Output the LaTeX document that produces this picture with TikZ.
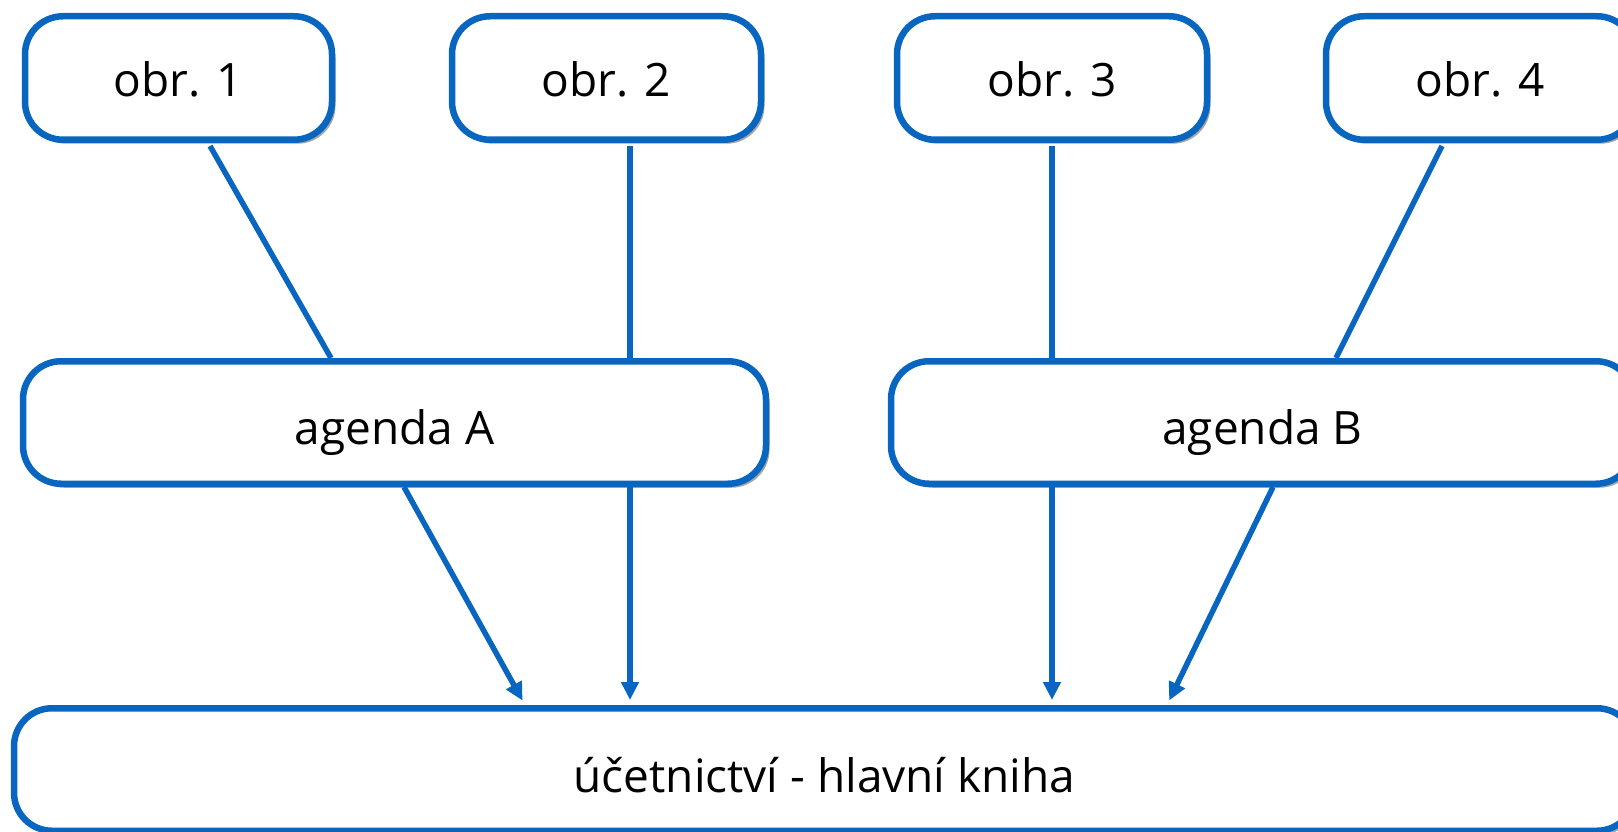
\documentclass[tikz,border=0pt]{standalone}
\usepackage{fontspec}
\setmainfont{Open Sans}
\usetikzlibrary{shadows,arrows.meta}
\definecolor{boxblue}{RGB}{8,102,192}
\tikzset{
  box/.style={draw=boxblue, line width=6.5pt, fill=white, rounded corners=38pt,
    inner sep=0pt, outer sep=3.25pt,
    drop shadow={shadow xshift=3.5pt, shadow yshift=-4pt, opacity=0.35, fill=black}},
  lbl/.style={anchor=base, font=\fontsize{46}{54}\selectfont, text=black},
  conn/.style={draw=boxblue, line width=5.5pt},
  arr/.style={conn, -{Triangle[length=18pt,width=17pt]}, shorten >=5pt}
}
\begin{document}
\begin{tikzpicture}[x=1pt,y=-1pt]
\useasboundingbox (0,0) rectangle (1618,832);
\clip (0,0) rectangle (1618,832);
% boxes
\node[box, minimum width=307pt, minimum height=123.5pt] (o1) at (178.5,78) {};
\node[box, minimum width=309pt, minimum height=123.5pt] (o2) at (606.5,78) {};
\node[box, minimum width=310pt, minimum height=123.5pt] (o3) at (1052,78) {};
\node[box, minimum width=309pt, minimum height=123.5pt] (o4) at (1480.5,78) {};
\node[box, minimum width=743pt, minimum height=122.5pt] (ga) at (394.5,422.5) {};
\node[box, minimum width=743pt, minimum height=122.5pt] (gb) at (1262.5,422.5) {};
\node[box, minimum width=1621pt, minimum height=122.5pt] (uc) at (824.5,769.5) {};
% labels
\node[lbl] (t1) at (178.5,97) {obr. 1};
\node[lbl] (t2) at (606.5,97) {obr. 2};
\node[lbl] (t3) at (1052,97) {obr. 3};
\node[lbl] (t4) at (1480.5,97) {obr. 4};
\node[lbl] (ta) at (394.5,444) {agenda A};
\node[lbl] (tb) at (1262.5,444) {agenda B};
\node[lbl] (tu) at (824.5,792) {účetnictví - hlavní kniha};
% connectors top
\draw[conn] ([yshift=-3pt]o1.south -| 210,0) -- (ga.north -| 331,0);
\draw[conn] ([yshift=-3pt]o2.south -| 630,0) -- (ga.north -| 630,0);
\draw[conn] ([yshift=-3pt]o3.south -| 1052,0) -- (gb.north -| 1052,0);
\draw[conn] ([yshift=-3pt]o4.south -| 1442,0) -- (gb.north -| 1336,0);
% arrows to bottom
\draw[arr] (ga.south -| 404,0) -- (uc.north -| 525,0);
\draw[arr] (ga.south -| 630,0) -- (uc.north -| 630,0);
\draw[arr] (gb.south -| 1052,0) -- (uc.north -| 1052,0);
\draw[arr] (gb.south -| 1273,0) -- (uc.north -| 1167,0);
\end{tikzpicture}
\end{document}
